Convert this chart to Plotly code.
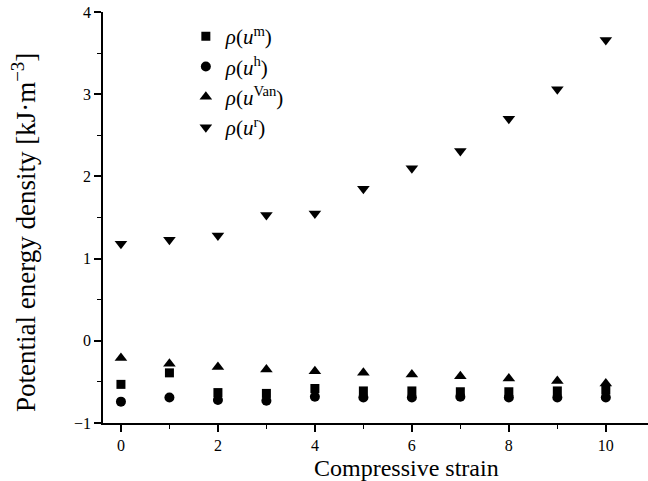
import plotly.graph_objects as go

strain = [0, 1, 2, 3, 4, 5, 6, 7, 8, 9, 10]
rho_m = [-0.53, -0.39, -0.63, -0.64, -0.58, -0.61, -0.61, -0.62, -0.62, -0.61, -0.60]
rho_h = [-0.74, -0.69, -0.72, -0.73, -0.68, -0.69, -0.69, -0.68, -0.69, -0.69, -0.69]
rho_van = [-0.21, -0.28, -0.32, -0.35, -0.37, -0.39, -0.41, -0.43, -0.46, -0.49, -0.52]
rho_r = [1.18, 1.23, 1.28, 1.53, 1.55, 1.85, 2.10, 2.31, 2.70, 3.06, 3.66]

series = [
    ("<i>ρ</i>(<i>u</i><sup>m</sup>)", rho_m, "square", 9),
    ("<i>ρ</i>(<i>u</i><sup>h</sup>)", rho_h, "circle", 10),
    ("<i>ρ</i>(<i>u</i><sup>Van</sup>)", rho_van, "triangle-up", 11),
    ("<i>ρ</i>(<i>u</i><sup>r</sup>)", rho_r, "triangle-down", 11),
]

x_title = "Compressive strain"
y_title = "Potential energy density [kJ·m<sup>−3</sup>]"

fig = go.Figure()
for name, vals, sym, sz in series:
    fig.add_trace(go.Scatter(x=strain, y=vals, mode="markers", name=name,
                             marker=dict(symbol=sym, size=sz, color="black",
                                         line=dict(width=0))))

font = "Liberation Serif, DejaVu Serif, serif"
axis_common = dict(showline=True, linecolor="black", linewidth=1.5, ticks="outside",
                   ticklen=7, tickwidth=1.5, tickcolor="black", showgrid=False,
                   zeroline=False, tickfont=dict(family=font, size=16, color="black"))

W, H = 648, 481
L, R, T, B = 103, 0, 12, 58
pw, ph = W - L - R, H - T - B

fig.update_layout(
    width=W, height=H,
    margin=dict(l=L, r=R, t=T, b=B),
    plot_bgcolor="white", paper_bgcolor="white",
    font=dict(family=font, color="black"),
    xaxis=dict(range=[-0.37, 10.87], tickvals=[0, 2, 4, 6, 8, 10],
               minor=dict(tickvals=[1, 3, 5, 7, 9], ticks="outside", ticklen=4,
                          tickwidth=1.2, tickcolor="black"),
               **axis_common),
    yaxis=dict(range=[-1, 4], tickvals=[-1, 0, 1, 2, 3, 4],
               ticktext=["−1", "0", "1", "2", "3", "4"],
               minor=dict(tickvals=[-0.5, 0.5, 1.5, 2.5, 3.5], ticks="outside",
                          ticklen=4, tickwidth=1.2, tickcolor="black"),
               **axis_common),
    legend=dict(x=0.152, y=0.99, xanchor="left", yanchor="top",
                bgcolor="rgba(0,0,0,0)", font=dict(family=font, size=21),
                itemwidth=30),
    showlegend=True,
    annotations=[
        dict(text=x_title, xref="paper", yref="paper",
             x=(406 - L) / pw, y=(H - B - 468) / ph, xanchor="center", yanchor="middle",
             showarrow=False, font=dict(size=24, family=font)),
        dict(text=y_title, xref="paper", yref="paper", textangle=-90,
             x=(24 - L) / pw, y=(H - B - 233) / ph, xanchor="center", yanchor="middle",
             showarrow=False, font=dict(size=27, family=font)),
    ],
)

fig.write_html("out.html")
